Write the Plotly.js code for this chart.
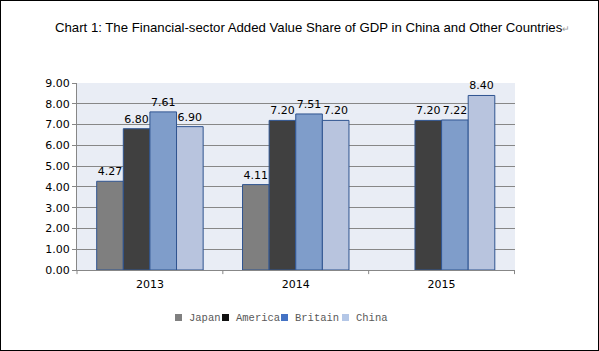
<!DOCTYPE html>
<html>
<head>
<meta charset="utf-8">
<script src="https://cdn.plot.ly/plotly-3.0.1.min.js"></script>
<style>
html,body{margin:0;padding:0;background:#fff;}
#chart{width:599px;height:351px;box-sizing:border-box;border:1px solid #000;}
</style>
</head>
<body>
<div id="chart"></div>
<script>
var years = ["2013", "2014", "2015"];
var seriesNames = ["Japan", "America", "Britain", "China"];
var japan = [4.27, 4.11, null];
var america = [6.80, 7.20, 7.20];
var britain = [7.61, 7.51, 7.22];
var china = [6.90, 7.20, 8.40];
var seriesValues = [japan, america, britain, china];
var colors = ["#7F7F7F", "#404040", "#7F9DCA", "#B8C4DE"];
var legendColors = ["#808080", "#111111", "#4472C4", "#B4C7E7"];

var traces = seriesValues.map(function (vals, i) {
  return {
    type: "bar",
    name: seriesNames[i],
    x: years,
    y: vals,
    text: vals.map(function (v) { return v === null ? "" : v.toFixed(2); }),
    textposition: "outside",
    cliponaxis: false,
    textfont: {family: "DejaVu Sans", size: 11, color: "#000"},
    marker: {color: colors[i], line: {color: "#2F5490", width: 1}},
    hoverinfo: "none",
    showlegend: false
  };
});

// plot geometry (pixels inside the layout) for placing the hand-built legend
var L = 76, T = 82, W = 597 - 76 - 83, H = 349 - 82 - 80;
function px(x) { return (x - 1 - L) / W; }
function py(y) { return (T + H - (y - 1)) / H; }
var legMarkX = [175, 222, 281, 342];
var legTextX = [187, 234, 293, 354];
var legY = 317.5;

var shapes = [1, 2, 3].map(function (k) {
  return {type: "line", xref: "x", yref: "paper", x0: k - 0.5, x1: k - 0.5, y0: 0, y1: -0.022,
    line: {color: "#878787", width: 1}};
}).concat([{type: "line", xref: "paper", yref: "paper", x0: 0, x1: 0, y0: 0, y1: -0.022, line: {color: "#878787", width: 1}}]);

var annotations = [];
seriesNames.forEach(function (n, i) {
  shapes.push({type: "rect", xref: "paper", yref: "paper",
    x0: px(legMarkX[i]), x1: px(legMarkX[i] + 7), y0: py(legY - 3.5), y1: py(legY + 3.5),
    fillcolor: legendColors[i], line: {width: 0}});
  annotations.push({xref: "paper", yref: "paper", x: px(legTextX[i]), y: py(legY),
    xanchor: "left", yanchor: "middle", showarrow: false, text: n,
    font: {family: "Liberation Mono", size: 10.5, color: "#595959"}});
});

var layout = {
  width: 597,
  height: 349,
  margin: {l: L, r: 83, t: T, b: 80},
  paper_bgcolor: "#ffffff",
  plot_bgcolor: "#E9EDF5",
  barmode: "group",
  bargap: 0.27,
  bargroupgap: 0,
  title: {
    text: "Chart 1: The Financial-sector Added Value Share of GDP in China and Other Countries<span style='font-size:9px;color:#999'>↵</span>",
    font: {family: "Liberation Sans", size: 13.2, color: "#000"},
    x: 0.522, xanchor: "center", y: 0.925, yanchor: "middle"
  },
  xaxis: {
    type: "category",
    showline: true, linecolor: "#878787", linewidth: 1,
    ticks: "", showgrid: false,
    tickfont: {family: "DejaVu Sans", size: 11, color: "#000"},
    ticklabelstandoff: 4
  },
  yaxis: {
    range: [0, 9], dtick: 1, tickformat: ".2f",
    showline: true, linecolor: "#878787", linewidth: 1,
    ticks: "outside", ticklen: 4, tickcolor: "#878787",
    showgrid: true, gridcolor: "#878787", gridwidth: 1,
    zeroline: false,
    tickfont: {family: "DejaVu Sans", size: 11, color: "#000"}
  },
  showlegend: false,
  shapes: shapes,
  annotations: annotations
};

Plotly.newPlot("chart", traces, layout, {displayModeBar: false, staticPlot: true});
</script>
</body>
</html>
